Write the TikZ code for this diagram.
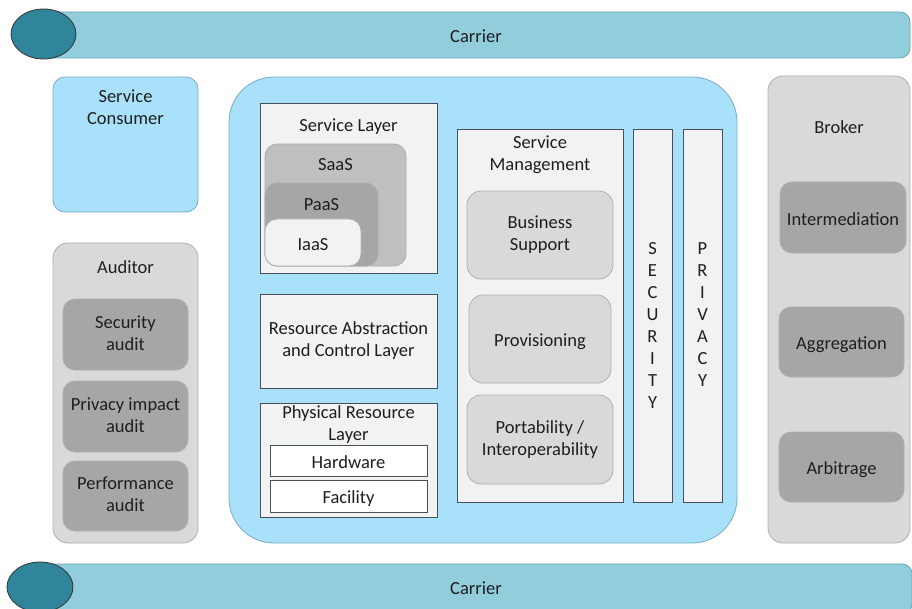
\documentclass[tikz,border=0pt]{standalone}
\usepackage{fontspec}
\setmainfont{Carlito}
\usetikzlibrary{shapes.geometric}
\definecolor{carrierbody}{RGB}{146,205,220}
\definecolor{carrierline}{RGB}{105,165,185}
\definecolor{carrierend}{RGB}{49,133,155}
\definecolor{cloudblue}{RGB}{170,225,250}
\definecolor{cloudline}{RGB}{120,170,200}
\definecolor{lightbox}{RGB}{242,242,242}
\definecolor{boxline}{RGB}{70,80,90}
\definecolor{grayouter}{RGB}{217,217,217}
\definecolor{grayline}{RGB}{175,175,175}
\definecolor{graydark}{RGB}{166,166,166}
\definecolor{graymid}{RGB}{191,191,191}
\definecolor{txt}{RGB}{30,30,30}
\newcommand{\mystrut}{\rule[-3.5bp]{0pt}{22bp}}
\begin{document}
\begin{tikzpicture}[x=1bp,y=-1bp,
  every node/.style={inner sep=0pt, outer sep=0pt, text=txt,
    font=\fontsize{18.5bp}{22bp}\selectfont, align=center},
  tx/.style={execute at begin node=\mystrut, execute at end node=\mystrut},
  frame/.style={draw=boxline, fill=lightbox, line width=0.8bp, anchor=north west},
  gbox/.style={draw=grayline, line width=0.8bp, anchor=north west, rounded corners=#1},
  gbox/.default=12bp,
  cylbody/.style={draw=carrierline, fill=carrierbody, line width=0.8bp,
    rounded corners=10bp, anchor=north west},
  cylend/.style={ellipse, draw=black!80, fill=carrierend, line width=0.8bp}
]
\useasboundingbox (0,0) rectangle (912,609);

% Carriers
\node[cylbody, minimum width=870bp, minimum height=46bp] (ctop) at (40,12) {};
\node[cylend, minimum width=65bp, minimum height=50bp] (etop) at (43.5,34) {};
\node[tx] (ctopt) at (476,35.5) {Carrier};
\node[cylbody, minimum width=872bp, minimum height=50bp] (cbot) at (40,564) {};
\node[cylend, minimum width=66bp, minimum height=50bp] (ebot) at (40,587) {};
\node[tx] (cbott) at (476,587) {Carrier};

% Service consumer
\node[draw=cloudline, fill=cloudblue, line width=0.8bp, rounded corners=12bp,
  anchor=north west, minimum width=145bp, minimum height=135bp] (cons) at (53,77) {};
\node[tx] (const) at (125.5,108.4) {Service\\Consumer};

% Auditor
\node[gbox=15bp, fill=grayouter, minimum width=145bp, minimum height=300bp] (aud) at (53,243) {};
\node[tx] (audt) at (125.5,266) {Auditor};
\node[gbox, fill=graydark, minimum width=125bp, minimum height=71bp, tx] (secaud) at (63,299) {Security\\audit};
\node[gbox, fill=graydark, minimum width=125bp, minimum height=71bp, tx] (privaud) at (63,381) {Privacy impact\\audit};
\node[gbox, fill=graydark, minimum width=125bp, minimum height=70bp, tx] (perfaud) at (63,461) {Performance\\audit};

% Provider (big blue)
\node[draw=cloudline, fill=cloudblue, line width=0.8bp, rounded corners=45bp,
  anchor=north west, minimum width=508bp, minimum height=466bp] (prov) at (229,77) {};

% Service layer
\node[frame, minimum width=177bp, minimum height=170bp] (sl) at (260,103) {};
\node[tx] (slt) at (348.5,124) {Service Layer};
\node[gbox, fill=graymid, minimum width=141bp, minimum height=122bp] (saas) at (265,144) {};
\node[tx] (saast) at (335.5,163.4) {SaaS};
\node[gbox, fill=graydark, minimum width=113bp, minimum height=83bp] (paas) at (265,183) {};
\node[tx] (paast) at (321.5,203.4) {PaaS};
\node[gbox, fill=lightbox, minimum width=96bp, minimum height=47bp, tx] (iaas) at (265,219) {IaaS};

% Resource abstraction
\node[frame, minimum width=177bp, minimum height=94bp, tx] (rac) at (260,294) {Resource Abstraction\\and Control Layer};

% Physical resource layer
\node[frame, minimum width=177bp, minimum height=114bp] (prl) at (260,403) {};
\node[tx] (prlt) at (348.5,424.5) {Physical Resource\\Layer};
\node[draw=boxline, fill=white, line width=0.8bp, anchor=north west,
  minimum width=157bp, minimum height=31bp, tx] (hw) at (270,445) {Hardware};
\node[draw=boxline, fill=white, line width=0.8bp, anchor=north west,
  minimum width=157bp, minimum height=32bp, tx] (fac) at (270,480) {Facility};

% Service management
\node[frame, minimum width=166bp, minimum height=373bp] (sm) at (457,129) {};
\node[tx] (smt) at (540,155) {Service\\Management};
\node[gbox=14bp, fill=grayouter, minimum width=146bp, minimum height=88bp, tx] (bs) at (467,191) {Business\\Support};
\node[gbox=14bp, fill=grayouter, minimum width=142bp, minimum height=88bp, tx] (provis) at (469,295) {Provisioning};
\node[gbox=14bp, fill=grayouter, minimum width=146bp, minimum height=89bp, tx] (port) at (467,395) {Portability /\\Interoperability};

% Security & privacy
\node[frame, minimum width=39bp, minimum height=373bp] (sec) at (633,129) {};
\node[tx] (sect) at (652.5,327.5) {S\\E\\C\\U\\R\\I\\T\\Y};
\node[frame, minimum width=39bp, minimum height=373bp] (priv) at (683,129) {};
\node[tx] (privt) at (702.5,316.5) {P\\R\\I\\V\\A\\C\\Y};

% Broker
\node[gbox=15bp, fill=grayouter, minimum width=142bp, minimum height=467bp] (brk) at (768,76) {};
\node[tx] (brkt) at (839,126) {Broker};
\node[gbox, fill=graydark, minimum width=126bp, minimum height=71bp, tx] (inter) at (780,182) {Intermediation};
\node[gbox, fill=graydark, minimum width=125bp, minimum height=70bp, tx] (aggr) at (779,307) {Aggregation};
\node[gbox, fill=graydark, minimum width=125bp, minimum height=70bp, tx] (arb) at (779,432) {Arbitrage};
\end{tikzpicture}
\end{document}
